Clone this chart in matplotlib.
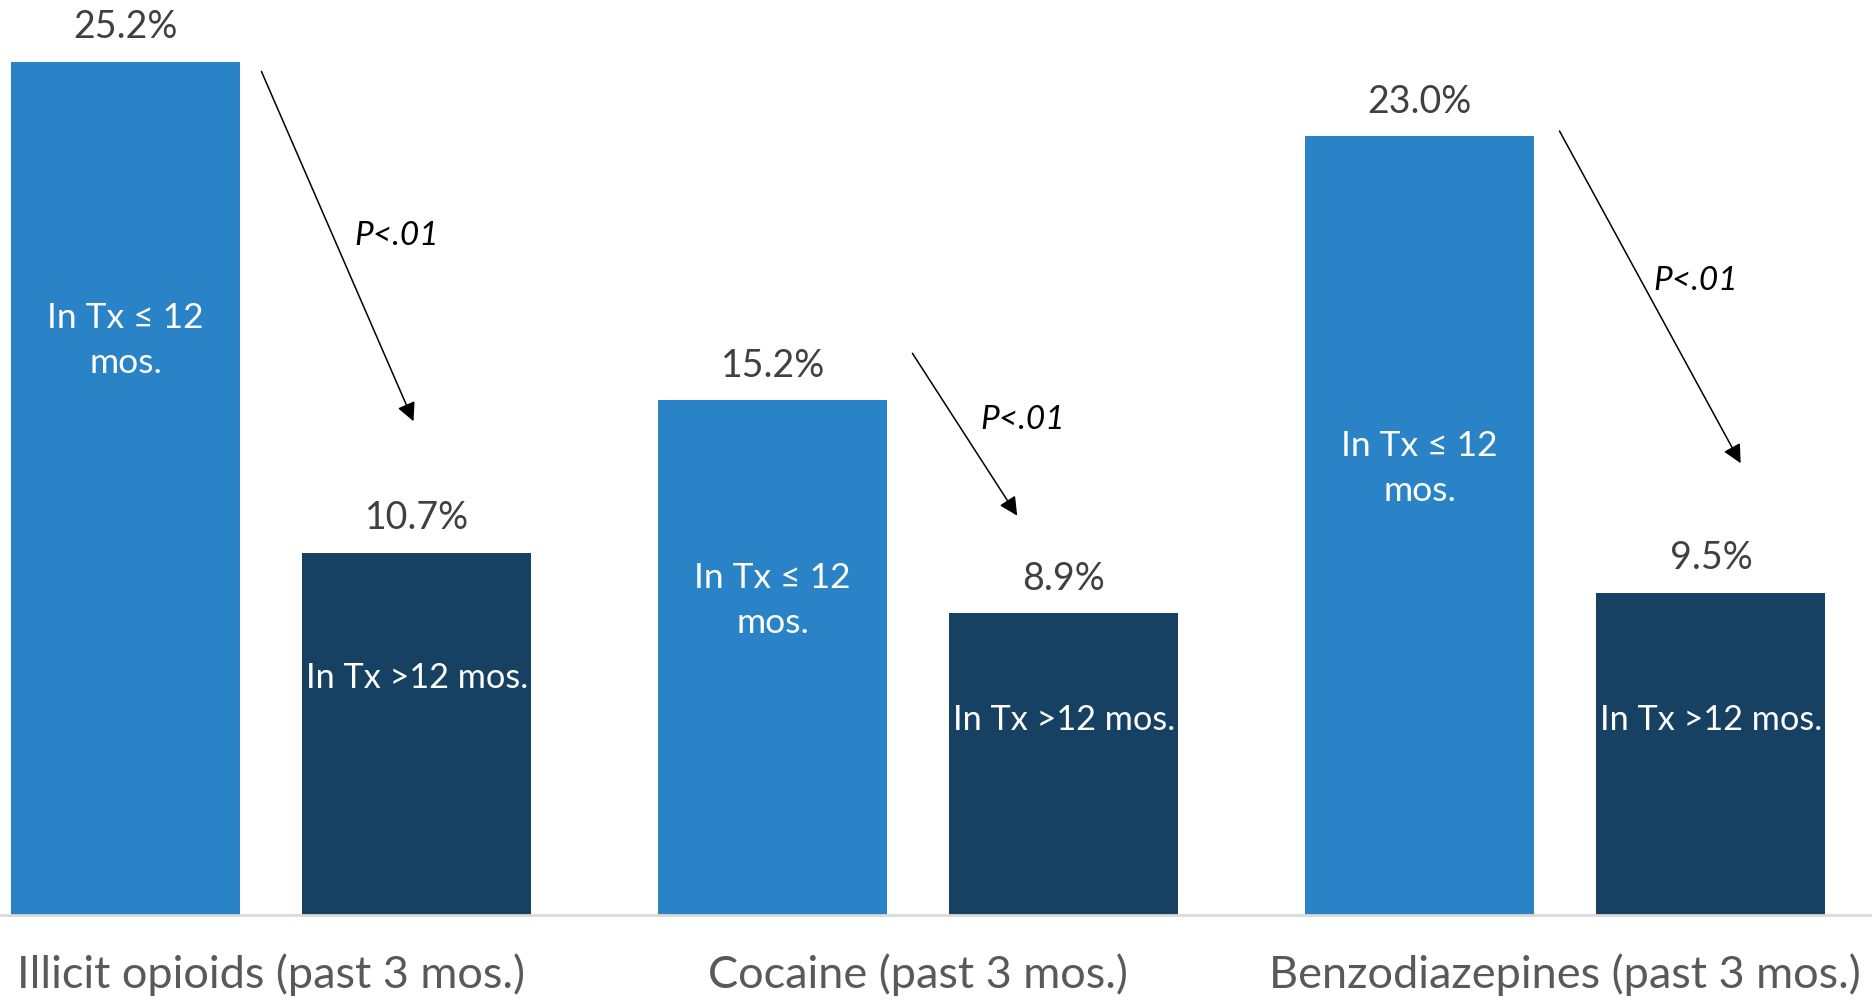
import matplotlib
matplotlib.use("Agg")
import matplotlib.pyplot as plt

# ---- data ----
categories = ["Illicit opioids (past 3 mos.)", "Cocaine (past 3 mos.)", "Benzodiazepines (past 3 mos.)"]
short_tx = [25.2, 15.2, 23.0]      # In Tx <= 12 mos.
long_tx = [10.7, 8.9, 9.5]         # In Tx > 12 mos.
short_label = "In Tx \u2264 12\nmos."
long_label = "In Tx >12 mos."
p_text = "P<.01"

# ---- layout helpers (positions, not data) ----
short_label_y = [16.98, 9.28, 13.17]
long_label_y = [6.99, 5.75, 5.75]
arrow_start = [(-0.015, 24.92), (0.991, 16.59), (1.991, 23.16)]
arrow_end = [(0.220, 14.58), (1.153, 11.79), (2.271, 13.34)]
p_pos = [(0.194, 20.05), (1.162, 14.61), (2.201, 18.74)]

light = "#2983c6"
dark = "#164162"
font = "Lato"

fig = plt.figure(figsize=(18.72, 10), dpi=100)
ax = fig.add_axes([0, 0.0854, 1, 0.9146])

groups = list(range(len(categories)))
off = 0.225
w = 0.354
xs_s = [g - off for g in groups]
xs_l = [g + off for g in groups]
ax.bar(xs_s, short_tx, width=w, color=light, zorder=2)
ax.bar(xs_l, long_tx, width=w, color=dark, zorder=2)

ax.set_xlim(-0.419, 2.474)
ax.set_ylim(0, 27.03)

for spine in ["top", "right", "left"]:
    ax.spines[spine].set_visible(False)
ax.spines["bottom"].set_color("#d9d9d9")
ax.spines["bottom"].set_linewidth(2)
ax.set_yticks([])
ax.set_xticks(groups)
ax.set_xticklabels(categories, fontsize=32.5, color="#595959", family=font)
ax.tick_params(axis="x", length=0, pad=28)

for x, v in zip(xs_s + xs_l, short_tx + long_tx):
    ax.annotate(f"{v:.1f}%", (x, v), xytext=(0, 25), textcoords="offset points",
                ha="center", va="center", fontsize=27, color="#404040", family=font)

for x, y in zip(xs_s, short_label_y):
    ax.text(x, y, short_label, ha="center", va="center", fontsize=25.5, color="white",
            family=font, linespacing=1.5)
for x, y in zip(xs_l, long_label_y):
    ax.text(x, y, long_label, ha="center", va="center", fontsize=24.7, color="white",
            family=font)

for s, e, p in zip(arrow_start, arrow_end, p_pos):
    ax.annotate("", xy=e, xytext=s,
                arrowprops=dict(arrowstyle="-|>", mutation_scale=28, lw=1.1, color="black",
                                shrinkA=0, shrinkB=0))
    ax.text(p[0], p[1], p_text, ha="center", va="center", fontsize=24, style="italic",
            color="black", family=font)

fig.savefig("out.png", dpi=100)
